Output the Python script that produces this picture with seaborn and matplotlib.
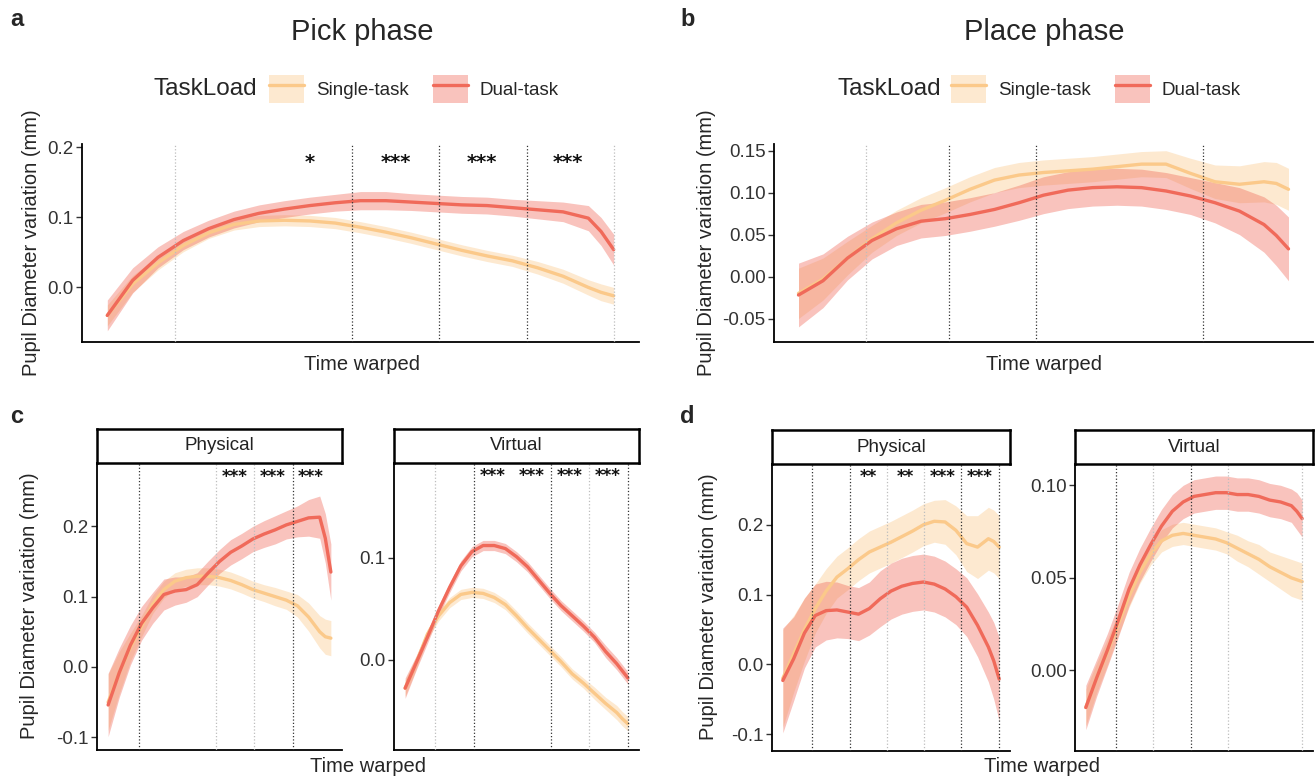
import matplotlib
matplotlib.use("Agg")
import pandas as pd
import seaborn as sns
from matplotlib import pyplot as plt
from matplotlib.patches import Patch
from matplotlib.lines import Line2D
from matplotlib.legend_handler import HandlerTuple

# warped time (0-100 %) and the curves
time = [0, 5, 10, 15, 20, 25, 30, 35, 40, 45, 50, 55, 60, 65, 70, 75, 80, 85, 90, 95, 97.5, 100]
loads = ['Single-task', 'Dual-task']

# a - pick phase
pick_single = [-0.040, 0.005, 0.035, 0.060, 0.078, 0.090, 0.095, 0.096, 0.095, 0.092, 0.086,
               0.079, 0.071, 0.062, 0.053, 0.045, 0.038, 0.028, 0.016, 0.000, -0.007, -0.012]
pick_single_se = [0.015, 0.012, 0.010, 0.009, 0.008, 0.008, 0.008, 0.008, 0.008, 0.008, 0.008,
                  0.008, 0.008, 0.008, 0.008, 0.008, 0.008, 0.009, 0.010, 0.011, 0.012, 0.012]
pick_dual = [-0.040, 0.010, 0.043, 0.067, 0.084, 0.097, 0.106, 0.112, 0.117, 0.121, 0.124,
             0.124, 0.122, 0.120, 0.118, 0.117, 0.114, 0.111, 0.108, 0.099, 0.080, 0.054]
pick_dual_se = [0.022, 0.018, 0.015, 0.013, 0.012, 0.012, 0.012, 0.012, 0.012, 0.012, 0.013,
                0.013, 0.012, 0.012, 0.012, 0.012, 0.012, 0.013, 0.014, 0.018, 0.020, 0.022]

# b - place phase
place_single = [-0.020, -0.003, 0.022, 0.045, 0.064, 0.079, 0.091, 0.104, 0.115, 0.121, 0.124,
                0.126, 0.128, 0.131, 0.134, 0.134, 0.123, 0.113, 0.110, 0.113, 0.111, 0.104]
place_single_se = [0.030, 0.025, 0.020, 0.016, 0.015, 0.015, 0.015, 0.015, 0.015, 0.015, 0.015,
                   0.015, 0.015, 0.015, 0.015, 0.016, 0.018, 0.020, 0.022, 0.024, 0.025, 0.025]
place_dual = [-0.022, -0.005, 0.022, 0.043, 0.057, 0.066, 0.069, 0.074, 0.080, 0.088, 0.097,
              0.103, 0.106, 0.107, 0.106, 0.102, 0.096, 0.088, 0.078, 0.062, 0.049, 0.033]
place_dual_se = [0.038, 0.032, 0.026, 0.022, 0.020, 0.020, 0.020, 0.020, 0.020, 0.021, 0.022,
                 0.022, 0.022, 0.022, 0.022, 0.022, 0.022, 0.024, 0.028, 0.033, 0.036, 0.038]

# c - pick phase by environment
pick_phys_single = [-0.050, -0.008, 0.028, 0.058, 0.089, 0.110, 0.122, 0.127, 0.129, 0.129, 0.127,
                    0.123, 0.117, 0.110, 0.105, 0.100, 0.095, 0.087, 0.071, 0.050, 0.043, 0.041]
pick_phys_single_se = [0.040, 0.030, 0.020, 0.015, 0.013, 0.012, 0.012, 0.012, 0.012, 0.012, 0.012,
                       0.012, 0.012, 0.012, 0.012, 0.013, 0.013, 0.016, 0.020, 0.023, 0.025, 0.025]
pick_phys_dual = [-0.054, -0.008, 0.031, 0.062, 0.084, 0.103, 0.108, 0.110, 0.117, 0.134, 0.150,
                  0.163, 0.172, 0.182, 0.189, 0.195, 0.202, 0.207, 0.212, 0.213, 0.183, 0.135]
pick_phys_dual_se = [0.045, 0.035, 0.028, 0.024, 0.022, 0.022, 0.020, 0.018, 0.017, 0.017, 0.017,
                     0.018, 0.018, 0.018, 0.019, 0.020, 0.020, 0.022, 0.026, 0.030, 0.035, 0.040]
pick_virt_single = [-0.028, -0.003, 0.025, 0.043, 0.056, 0.064, 0.066, 0.065, 0.061, 0.054, 0.043,
                    0.031, 0.020, 0.009, -0.002, -0.014, -0.023, -0.033, -0.043, -0.052, -0.058, -0.063]
pick_virt_single_se = [0.008, 0.006, 0.005, 0.005, 0.005, 0.005, 0.005, 0.005, 0.005, 0.005, 0.005,
                       0.005, 0.005, 0.005, 0.005, 0.005, 0.005, 0.006, 0.006, 0.007, 0.007, 0.007]
pick_virt_dual = [-0.028, -0.003, 0.022, 0.048, 0.071, 0.092, 0.106, 0.112, 0.112, 0.109, 0.101,
                  0.091, 0.078, 0.065, 0.053, 0.043, 0.033, 0.022, 0.008, -0.004, -0.011, -0.018]
pick_virt_dual_se = [0.010, 0.007, 0.006, 0.005, 0.005, 0.005, 0.005, 0.005, 0.005, 0.005, 0.005,
                     0.005, 0.005, 0.005, 0.005, 0.005, 0.005, 0.005, 0.006, 0.006, 0.006, 0.006]

# d - place phase by environment
place_phys_single = [-0.020, 0.015, 0.050, 0.080, 0.105, 0.125, 0.137, 0.150, 0.161, 0.168, 0.175,
                     0.183, 0.191, 0.200, 0.205, 0.204, 0.192, 0.173, 0.168, 0.180, 0.176, 0.168]
place_phys_single_se = [0.070, 0.055, 0.045, 0.035, 0.032, 0.030, 0.030, 0.030, 0.030, 0.030, 0.030,
                        0.030, 0.030, 0.030, 0.030, 0.032, 0.035, 0.040, 0.045, 0.045, 0.045, 0.045]
place_phys_dual = [-0.023, 0.008, 0.045, 0.070, 0.077, 0.078, 0.075, 0.072, 0.080, 0.094, 0.105,
                   0.112, 0.116, 0.118, 0.115, 0.108, 0.097, 0.082, 0.056, 0.025, 0.005, -0.021]
place_phys_dual_se = [0.075, 0.060, 0.050, 0.045, 0.042, 0.040, 0.038, 0.038, 0.038, 0.040, 0.040,
                      0.040, 0.040, 0.040, 0.040, 0.040, 0.040, 0.042, 0.045, 0.050, 0.055, 0.060]
place_virt_single = [-0.020, -0.004, 0.010, 0.025, 0.040, 0.053, 0.063, 0.070, 0.073, 0.074, 0.073,
                     0.072, 0.071, 0.069, 0.066, 0.063, 0.060, 0.056, 0.053, 0.050, 0.049, 0.048]
place_virt_single_se = [0.010, 0.008, 0.007, 0.006, 0.006, 0.006, 0.006, 0.006, 0.006, 0.006, 0.006,
                        0.006, 0.006, 0.006, 0.007, 0.007, 0.008, 0.008, 0.009, 0.010, 0.010, 0.010]
place_virt_dual = [-0.020, -0.004, 0.011, 0.027, 0.044, 0.057, 0.068, 0.078, 0.086, 0.091, 0.094,
                   0.095, 0.096, 0.096, 0.095, 0.095, 0.094, 0.092, 0.091, 0.089, 0.086, 0.082]
place_virt_dual_se = [0.012, 0.010, 0.009, 0.009, 0.009, 0.009, 0.009, 0.009, 0.009, 0.009, 0.009,
                      0.009, 0.009, 0.009, 0.009, 0.009, 0.009, 0.009, 0.009, 0.009, 0.010, 0.010]

palette = {'Single-task': '#FBC98A', 'Dual-task': '#F06A5A'}

sns.set_style('white')
plt.rcParams['font.family'] = ['Liberation Sans', 'DejaVu Sans']

W, H = 1315, 779
fig = plt.figure(figsize=(W / 100, H / 100), dpi=100)


def rect(x0, y0, x1, y1):
    return [x0 / W, 1 - y1 / H, (x1 - x0) / W, (y1 - y0) / H]


def long_frame(single, single_se, dual, dual_se):
    rows = []
    for load, mid, se in (('Single-task', single, single_se), ('Dual-task', dual, dual_se)):
        for t, m, s in zip(time, mid, se):
            for v in (m - s, m, m + s):
                rows.append((t, v, load))
    return pd.DataFrame(rows, columns=['time', 'pupil', 'TaskLoad'])


def draw(box, df, ylim, yticks, ylabels, dark, faint, stars, star_y, star_size=12):
    ax = fig.add_axes(rect(*box))
    sns.lineplot(data=df, x='time', y='pupil', hue='TaskLoad', hue_order=loads,
                 palette=palette, estimator='median',
                 errorbar=lambda v: (v.min(), v.max()),
                 err_kws={'alpha': 0.4, 'linewidth': 0},
                 linewidth=2.4, legend=False, ax=ax)
    for x in faint:
        ax.axvline(x, color='#BDBDBD', ls=':', lw=0.9, zorder=3)
    for x in dark:
        ax.axvline(x, color='#333333', ls=':', lw=0.9, zorder=3)
    for x, s in stars:
        ax.text(x, star_y, s, ha='center', va='center', fontsize=star_size,
                fontweight='bold', family='DejaVu Sans', color='#111111')
    ax.set_xlim(-5, 105)
    ax.set_ylim(*ylim)
    ax.set_yticks(yticks)
    ax.set_yticklabels(ylabels)
    ax.set_xticks([])
    ax.set_xlabel('')
    ax.set_ylabel('')
    ax.tick_params(axis='y', length=4, width=1, color='#333333', labelsize=13.5,
                   labelcolor='#333333', pad=2, left=True)
    for side in ['top', 'right']:
        ax.spines[side].set_visible(False)
    for side in ['left', 'bottom']:
        ax.spines[side].set_color('black')
        ax.spines[side].set_linewidth(1.3)
    ax.set_facecolor('none')
    return ax


def strip(box, label):
    sax = fig.add_axes(rect(*box))
    sax.set_xticks([])
    sax.set_yticks([])
    for sp in sax.spines.values():
        sp.set_linewidth(1.8)
        sp.set_color('black')
    sax.text(0.5, 0.5, label, ha='center', va='center', fontsize=13.5, color='#222222',
             transform=sax.transAxes)


ylab = 'Pupil Diameter variation (mm)'

# panel a
draw((82, 144, 639, 342), long_frame(pick_single, pick_single_se, pick_dual, pick_dual_se),
     (-0.078, 0.205), [0.0, 0.1, 0.2], ['0.0', '0.1', '0.2'],
     [48.3, 65.5, 82.8], [13.4, 100],
     [(40, '*'), (57, '***'), (74, '***'), (91, '***')], 0.178, star_size=14)

# panel b
draw((774, 144, 1313, 342), long_frame(place_single, place_single_se, place_dual, place_dual_se),
     (-0.078, 0.158), [-0.05, 0.0, 0.05, 0.10, 0.15], ['-0.05', '0.00', '0.05', '0.10', '0.15'],
     [30.8, 48.4, 82.6], [13.8], [], 0)

# panel c
draw((97, 463, 342, 750),
     long_frame(pick_phys_single, pick_phys_single_se, pick_phys_dual, pick_phys_dual_se),
     (-0.118, 0.29), [-0.1, 0.0, 0.1, 0.2], ['-0.1', '0.0', '0.1', '0.2'],
     [13.8, 82.8], [48.5, 65.7], [(57, '***'), (74, '***'), (91, '***')], 0.27)
draw((394, 463, 639, 750),
     long_frame(pick_virt_single, pick_virt_single_se, pick_virt_dual, pick_virt_dual_se),
     (-0.0887, 0.193), [0.0, 0.1], ['0.0', '0.1'],
     [31, 65.6, 100], [13.6, 82.6],
     [(39.5, '***'), (57, '***'), (74, '***'), (91, '***')], 0.18)
strip((97, 429, 342, 463), 'Physical')
strip((394, 429, 639, 463), 'Virtual')

# panel d
draw((772, 464, 1010, 751),
     long_frame(place_phys_single, place_phys_single_se, place_phys_dual, place_phys_dual_se),
     (-0.124, 0.287), [-0.1, 0.0, 0.1, 0.2], ['-0.1', '0.0', '0.1', '0.2'],
     [13.5, 30.9, 82.4, 100], [48.3, 65.3],
     [(39.6, '**'), (56.6, '**'), (73.9, '***'), (91.1, '***')], 0.268)
draw((1075, 464, 1313, 751),
     long_frame(place_virt_single, place_virt_single_se, place_virt_dual, place_virt_dual_se),
     (-0.0435, 0.1115), [0.0, 0.05, 0.10], ['0.00', '0.05', '0.10'],
     [13.8, 48.7], [31.2, 65.8, 100], [], 0)
strip((772, 430, 1010, 464), 'Physical')
strip((1075, 430, 1313, 464), 'Virtual')


def ftext(x, y, s, **kw):
    fig.text(x / W, 1 - y / H, s, **kw)


# panel letters, titles and shared labels
for (x, y), s in zip([(10, 20), (680, 20), (10, 417), (680, 417)], 'abcd'):
    ftext(x, y, s, fontsize=17, fontweight='bold', ha='left', va='center')
ftext(362, 32, 'Pick phase', fontsize=21, ha='center', va='center')
ftext(1044, 32, 'Place phase', fontsize=21, ha='center', va='center')
for x, y in [(362, 364), (1044, 364), (368, 766), (1042, 766)]:
    ftext(x, y, 'Time warped', fontsize=14.5, ha='center', va='center')
for x, y in [(32, 243), (706, 243), (30, 606), (708, 607)]:
    ftext(x, y, ylab, fontsize=14.5, ha='center', va='center', rotation=90)

# legends: title on the left, ribbon + line keys
handles = [(Patch(facecolor=palette[k], alpha=0.4, linewidth=0),
            Line2D([], [], color=palette[k], lw=2.4)) for k in loads]
for tx, kx in [(154, 269), (837, 951)]:
    ftext(tx, 89, 'TaskLoad', fontsize=17.5, ha='left', va='center')
    fig.legend(handles, loads, ncol=2, frameon=False, fontsize=13.5,
               handler_map={tuple: HandlerTuple(ndivide=1)},
               handlelength=1.87, handleheight=1.92, handletextpad=0.64,
               columnspacing=1.28, borderpad=0, borderaxespad=0,
               loc='center left', bbox_to_anchor=(kx / W, 1 - 89 / H))

fig.savefig('out.png', dpi=100)
